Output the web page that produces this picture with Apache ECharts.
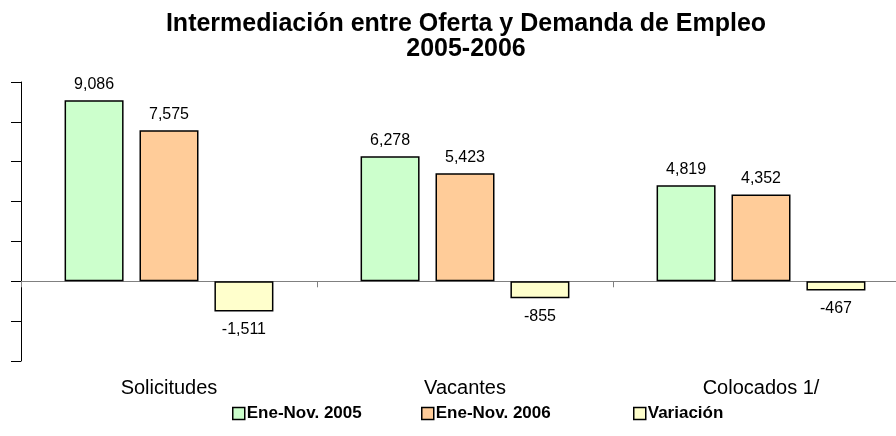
<!DOCTYPE html>
<html>
<head>
<meta charset="utf-8">
<script src="https://cdn.jsdelivr.net/npm/echarts@6/dist/echarts.min.js"></script>
<style>
  html, body { margin: 0; padding: 0; background: #fff; overflow: hidden; }
  /* plot area in the original runs past the right edge, so the canvas is a bit wider than the window */
  #chart { width: 909px; height: 436px; }
</style>
</head>
<body>
<div id="chart"></div>
<script>
const categories = ['Solicitudes', 'Vacantes', 'Colocados 1/']
const seriesNames = ['Ene-Nov. 2005', 'Ene-Nov. 2006', 'Variación']
const values2005 = [9086, 6278, 4819]
const values2006 = [7575, 5423, 4352]
const valuesVar = [-1511, -855, -467]
const colors = ['#ccffcc', '#ffcc99', '#ffffcc']

const font = 'Arial, "Liberation Sans", sans-serif'
const fmt = (v) => v.toLocaleString('en-US')

// negative bars get their label underneath
const makeData = (arr) =>
  arr.map((v) => ({
    value: v,
    label: { position: v < 0 ? 'bottom' : 'top', distance: v < 0 ? 10 : 8 },
  }))

const chart = echarts.init(document.getElementById('chart'))

const allSeries = [values2005, values2006, valuesVar].map((arr, i) => ({
  name: seriesNames[i],
  type: 'bar',
  xAxisIndex: 0,
  barWidth: 59,
  barGap: '27%',
  itemStyle: { color: colors[i], borderColor: '#000', borderWidth: 1.5 },
  label: {
    show: true,
    color: '#000',
    fontSize: 16,
    fontFamily: font,
    formatter: (p) => fmt(p.value),
  },
  data: makeData(arr),
}))

const legendLefts = [232, 421, 633]

chart.setOption({
  backgroundColor: '#fff',
  animation: false,
  title: {
    text: 'Intermediación entre Oferta y Demanda de Empleo\n2005-2006',
    left: 461,
    top: 7,
    textAlign: 'center',
    textStyle: {
      fontSize: 25,
      fontWeight: 'bold',
      fontFamily: font,
      color: '#000',
      lineHeight: 25,
    },
  },
  legend: seriesNames.map((name, i) => ({
    data: [name],
    left: legendLefts[i],
    top: 405,
    padding: 0,
    itemWidth: 12,
    itemHeight: 12,
    itemGap: 4,
    icon: 'rect',
    itemStyle: { borderColor: '#000', borderWidth: 1.5 },
    textStyle: { fontSize: 17, fontWeight: 'bold', fontFamily: font, color: '#000', padding: [0, 0, 0, -3] },
  })),
  grid: { left: 21, top: 82, right: 0, height: 279 },
  xAxis: [
    {
      type: 'category',
      data: categories,
      axisLine: { onZero: true, lineStyle: { color: '#808080', width: 1 } },
      axisTick: { show: true, length: 6, lineStyle: { color: '#808080' } },
      axisLabel: { show: false },
    },
    {
      type: 'category',
      data: categories,
      position: 'bottom',
      axisLine: { show: false, onZero: false },
      axisTick: { show: false },
      axisLabel: { show: true, margin: 17, fontSize: 20, fontFamily: font, color: '#000' },
    },
  ],
  yAxis: {
    type: 'value',
    min: -4000,
    max: 10000,
    interval: 2000,
    axisLine: { show: true, lineStyle: { color: '#000', width: 1 } },
    axisTick: { show: true, length: 10, lineStyle: { color: '#000' } },
    axisLabel: { show: false },
    splitLine: { show: false },
  },
  series: allSeries,
})
</script>
</body>
</html>
